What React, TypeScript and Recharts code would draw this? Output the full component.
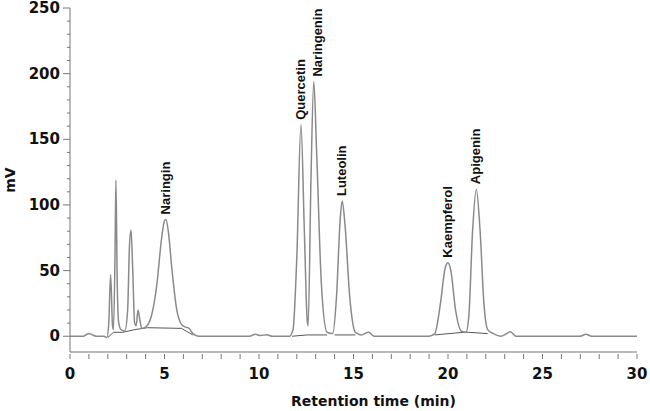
import React from "react";
import { LineChart, Line, XAxis, YAxis, ReferenceDot } from "recharts";

// chromatogram trace: [retention time (min), signal (mV)]
const traceTime = [
  0, 0.7, 0.9, 1.0, 1.2, 1.4, 1.8, 1.95, 2.05, 2.15, 2.25, 2.3, 2.38, 2.43, 2.5, 2.58, 2.7, 2.9,
  3.05, 3.15, 3.23, 3.32, 3.42, 3.5, 3.6, 3.7, 3.8, 4.0, 4.3, 4.6, 4.85, 5.0, 5.08, 5.2, 5.4,
  5.65, 5.9, 6.1, 6.3, 6.5, 6.8, 7.5, 9.5, 9.8, 10.1, 10.4, 10.7, 11.0, 11.6, 11.8, 12.0, 12.22,
  12.4, 12.55, 12.6, 12.75, 12.9, 13.05, 13.3, 13.6, 13.9, 14.1, 14.3, 14.4, 14.55, 14.8, 15.1,
  15.4, 15.8, 16.1, 19.0, 19.3, 19.6, 19.85, 20.0, 20.15, 20.4, 20.7, 20.95, 21.1, 21.3, 21.5,
  21.7, 21.9, 22.1, 22.4, 22.8, 23.1, 23.3, 23.6, 27.0, 27.3, 27.6, 30,
];
const traceSignal = [
  0, 0, 1.5, 2, 1, 0, 0, -1, 10, 47, 8, 5, 60, 119, 40, 10, 5, 4,
  20, 70, 81, 50, 10, 8, 20, 12, 6, 7, 15, 40, 75, 88, 89, 80, 50,
  20, 9, 7, 6, 2, 0, 0, 0, 1.5, 0.5, 1.2, 0, 0, 0, 5, 60, 161,
  80, 12, 8, 120, 194, 140, 40, 3, 2, 30, 90, 103, 85, 30, 3,
  1, 3, 0, 0, 2, 25, 52, 56, 50, 20, 4, 3, 15, 80, 112,
  80, 25, 5, 2, 0, 2, 3.5, 0, 0, 1.5, 0, 0,
];

// integration baselines drawn by the software (null = gap)
const baseTime = [2.0, 2.3, 2.8, 3.4, 4.1, 5.9, 6.5, 6.6, 11.75, 12.55, 13.6, 13.7, 14.0, 15.1, 15.2, 19.3, 20.8, 21.1, 22.1];
const baseSignal = [-1, 3, 3, 5, 6.5, 6, 1, null, 0, 1, 1, null, 1, 1, null, 1, 3, 3, 2];

const peakNames = ["Naringin", "Quercetin", "Naringenin", "Luteolin", "Kaempferol", "Apigenin"];
const peakTimes = [5.08, 12.22, 12.9, 14.4, 20.0, 21.5];
const peakHeights = [89, 161, 194, 103, 56, 112];

const trace = traceTime.map((t, i) => ({ t, v: traceSignal[i] }));
const baseline = baseTime.map((t, i) => ({ t, v: baseSignal[i] }));

const minorX = Array.from({ length: 31 }, (_, i) => i);
const minorY = Array.from({ length: 26 }, (_, i) => i * 10);

const tickFont = { fontFamily: "DejaVu Sans", fontWeight: 700, fontSize: 15, fill: "#111" };

function YTick({ x, y, payload }: any) {
  const major = payload.value % 50 === 0;
  return (
    <g>
      <line x1={x - (major ? 7 : 3)} x2={x} y1={y} y2={y} stroke="#777" />
      {major && (
        <text x={x - 10} y={y} dy={5} textAnchor="end" {...tickFont}>
          {payload.value}
        </text>
      )}
    </g>
  );
}

function XTick({ x, y, payload }: any) {
  const major = payload.value % 5 === 0;
  return (
    <g>
      <line x1={x} x2={x} y1={y} y2={y + 5} stroke="#777" />
      {major && (
        <text x={x} y={y + 25} textAnchor="middle" {...tickFont}>
          {payload.value}
        </text>
      )}
    </g>
  );
}

function PeakLabel(name: string, dx: number) {
  return ({ cx, cy }: any) => (
    <text
      transform={`translate(${cx + 4 + dx},${cy - 5}) rotate(-90)`}
      textAnchor="start"
      fontFamily="Liberation Sans, Arial"
      fontWeight={700}
      fontSize={13}
      fill="#111"
    >
      {name}
    </text>
  );
}

export default function App() {
  return (
    <div style={{ position: "absolute", left: 0, top: 0, background: "#fff" }}>
      <LineChart width={650} height={411} margin={{ top: 8, right: 13, bottom: 0, left: 0 }}>
        <XAxis
          dataKey="t"
          type="number"
          domain={[0, 30]}
          ticks={minorX}
          interval={0}
          tick={<XTick />}
          tickLine={false}
          tickSize={0}
          stroke="#777"
          height={59}
          label={{
            value: "Retention time (min)",
            position: "insideBottom",
            offset: 5,
            dx: 20,
            style: { fontFamily: "DejaVu Sans", fontWeight: 700, fontSize: 14, fill: "#111" },
          }}
        />
        <YAxis
          type="number"
          domain={[-12, 250]}
          ticks={minorY}
          interval={0}
          tick={<YTick />}
          tickLine={false}
          tickSize={0}
          tickMargin={0}
          width={70}
          stroke="#777"
          label={{
            value: "mV",
            angle: -90,
            position: "insideLeft",
            offset: 10,
            style: { fontFamily: "DejaVu Sans", fontWeight: 700, fontSize: 14, fill: "#111", textAnchor: "middle" },
          }}
        />
        <Line
          data={baseline}
          dataKey="v"
          type="linear"
          stroke="#555"
          strokeWidth={1}
          dot={false}
          isAnimationActive={false}
        />
        <Line
          data={trace}
          dataKey="v"
          type="monotone"
          stroke="#8a8a8a"
          strokeWidth={1.5}
          dot={false}
          isAnimationActive={false}
        />
        {peakNames.map((n, i) => (
          <ReferenceDot
            key={n}
            x={peakTimes[i]}
            y={peakHeights[i]}
            r={0}
            shape={PeakLabel(n, n === "Naringenin" ? 4 : 0)}
          />
        ))}
      </LineChart>
    </div>
  );
}
